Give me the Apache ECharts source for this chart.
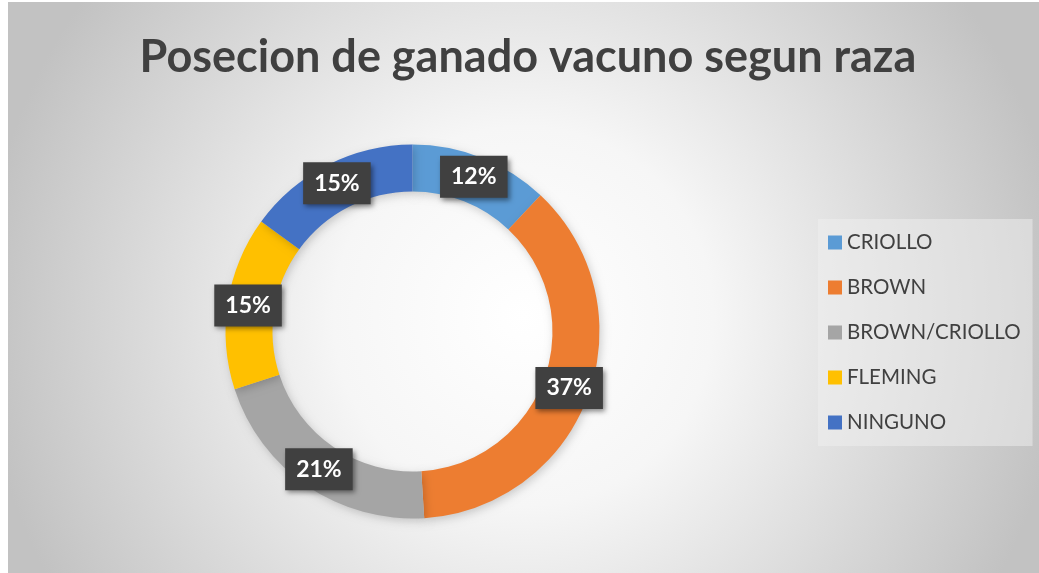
<!DOCTYPE html>
<html>
<head>
<meta charset="utf-8">
<script src="https://cdn.jsdelivr.net/npm/echarts@6/dist/echarts.min.js"></script>
<style>
  html, body { margin: 0; padding: 0; background: #fff; }
  #chart { width: 1039px; height: 573px; }
</style>
</head>
<body>
<div id="chart"></div>
<script>
const razas = ['CRIOLLO', 'BROWN', 'BROWN/CRIOLLO', 'FLEMING', 'NINGUNO'];
const porcentajes = [12, 37, 21, 15, 15];
const colores = ['#5B9BD5', '#ED7D31', '#A5A5A5', '#FFC000', '#4472C4'];

const chart = echarts.init(document.getElementById('chart'));

const option = {
  graphic: [
    {
      type: 'rect',
      z: -10,
      shape: { x: 8, y: 2, width: 1031, height: 571 },
      style: {
        fill: new echarts.graphic.RadialGradient(0.5, 0.55, 0.95, [
          { offset: 0, color: '#ffffff' },
          { offset: 0.35, color: '#f6f6f6' },
          { offset: 1, color: '#c2c2c2' },
        ]),
      },
      silent: true,
    },
  ],
  title: {
    text: 'Posecion de ganado vacuno segun raza',
    left: 523,
    textAlign: 'center',
    top: 30,
    textStyle: {
      fontFamily: 'Lato',
      fontWeight: 'bold',
      fontSize: 45,
      color: '#404040',
    },
  },
  legend: {
    orient: 'vertical',
    left: 818,
    top: 219,
    padding: [13, 12, 13, 10],
    backgroundColor: 'rgba(239,239,239,0.5)',
    itemWidth: 14,
    itemHeight: 14,
    itemGap: 24,
    icon: 'rect',
    textStyle: {
      fontFamily: 'Lato',
      fontSize: 20.5,
      color: '#404040',
    },
    data: razas,
  },
  series: [
    {
      type: 'pie',
      center: [412.5, 331.5],
      radius: [140, 187],
      startAngle: 90,
      clockwise: true,
      avoidLabelOverlap: false,
      color: colores,
      itemStyle: {
        shadowBlur: 8,
        shadowColor: 'rgba(0,0,0,0.18)',
        shadowOffsetX: 2,
        shadowOffsetY: 3,
      },
      label: {
        show: true,
        position: 'inside',
        formatter: '{d}%',
        fontFamily: 'Lato',
        fontWeight: 'bold',
        fontSize: 23,
        lineHeight: 24,
        color: '#ffffff',
        backgroundColor: '#404040',
        padding: [9, 11, 9, 11],
        shadowColor: 'rgba(0,0,0,0.45)',
        shadowBlur: 5,
        shadowOffsetX: 2,
        shadowOffsetY: 3,
      },
      labelLine: { show: false },
      emphasis: { disabled: true },
      data: razas.map((r, i) => ({ name: r, value: porcentajes[i] })),
    },
  ],
};

chart.setOption(option);
</script>
</body>
</html>
